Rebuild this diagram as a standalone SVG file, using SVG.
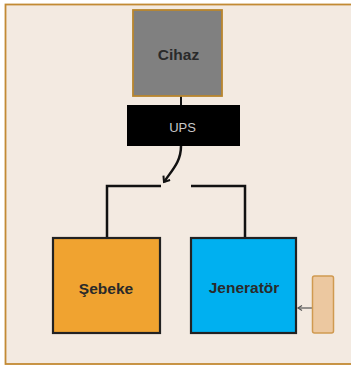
<svg xmlns="http://www.w3.org/2000/svg" width="351" height="367" viewBox="0 0 351 367">
<style>
.lbl{font-family:"Liberation Sans",Arial,sans-serif;font-weight:bold;font-size:15.5px;text-anchor:middle;dominant-baseline:central;fill:#2a2a2a}
.wire{fill:none;stroke:#111;stroke-width:2.5}
.box{stroke:#222;stroke-width:2.2}
</style>
<defs>
<marker id="ah" markerWidth="10" markerHeight="10" refX="6" refY="5" orient="auto" markerUnits="userSpaceOnUse">
<path d="M1,1 L6,5 L1,9" fill="none" stroke="#111" stroke-width="2"/>
</marker>
<marker id="ahs" markerWidth="8" markerHeight="8" refX="5" refY="4" orient="auto" markerUnits="userSpaceOnUse">
<path d="M1,1.5 L5,4 L1,6.5" fill="none" stroke="#555" stroke-width="1.2"/>
</marker>
</defs>
<rect x="5.5" y="4.5" width="352" height="359.5" fill="#F3EAE1" stroke="#C28A34" stroke-width="1.8"/>
<g id="connectors">
<line x1="181" y1="96" x2="181" y2="106" stroke="#111" stroke-width="2"/>
<path class="wire" d="M181,146 C181,162 172,170 164,182" marker-end="url(#ah)"/>
<polyline class="wire" points="161,186 107,186 107,238"/>
<polyline class="wire" points="191,186 245,186 245,238"/>
<line x1="312" y1="308" x2="298" y2="308" stroke="#555" stroke-width="1.2" marker-end="url(#ahs)"/>
</g>
<g id="cihaz">
<rect x="133" y="10" width="89" height="86" fill="#808080" stroke="#B8862E" stroke-width="1.8"/>
<text class="lbl" x="178.5" y="54">Cihaz</text>
</g>
<g id="ups">
<rect x="127" y="105" width="113" height="41" fill="#000"/>
<text x="182.5" y="127" font-family="Liberation Sans,Arial,sans-serif" font-size="13" text-anchor="middle" dominant-baseline="central" fill="#c8c8c8">UPS</text>
</g>
<g id="sebeke">
<rect class="box" x="53" y="238" width="107" height="95" fill="#F0A330"/>
<text class="lbl" x="106" y="288">Şebeke</text>
</g>
<g id="jenerator">
<rect class="box" x="191" y="238" width="105" height="95" fill="#00B0F0"/>
<text class="lbl" x="244" y="287">Jeneratör</text>
</g>
<g id="kaynak">
<rect x="312.5" y="276" width="21" height="57" rx="2" fill="#ECC8A0" stroke="#D09A50" stroke-width="1.5"/>
</g>
</svg>
